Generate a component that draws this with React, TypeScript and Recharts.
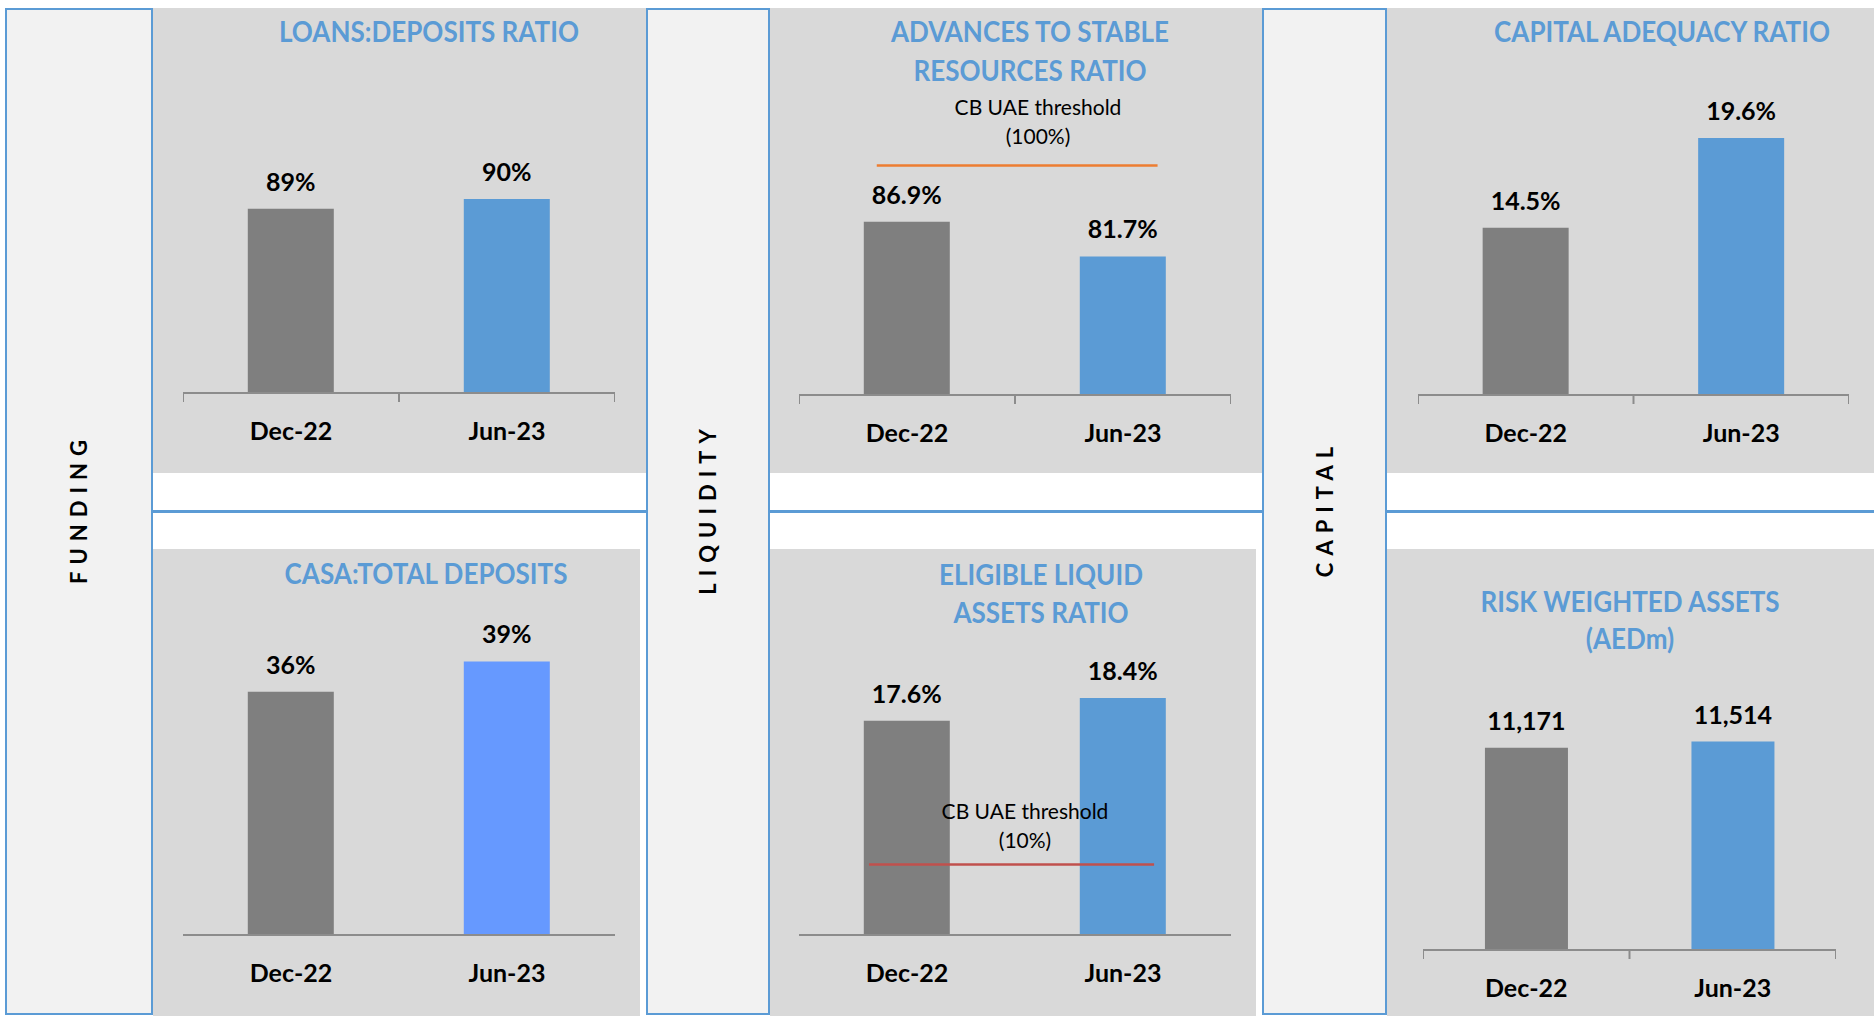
import React from 'react';
import { BarChart, Bar, XAxis, YAxis, Cell, LabelList, ReferenceLine } from 'recharts';

// periods shown on every panel
const periods = ['Dec-22', 'Jun-23'];

// panel values
const loansToDeposits = [89, 90];
const advancesToStable = [86.9, 81.7];
const capitalAdequacy = [14.5, 19.6];
const casaToDeposits = [36, 39];
const eligibleLiquid = [17.6, 18.4];
const riskWeightedAssets = [11171, 11514];

const sections = ['FUNDING', 'LIQUIDITY', 'CAPITAL'];

const thresholdCaption = 'CB UAE threshold';
const advancesThresholdText = '(100%)';
const liquidThresholdText = '(10%)';
// level at which the drawn threshold bar sits on each chart's own scale
const advancesThresholdLevel = 95.3;
const liquidThresholdLevel = 12.5;

const FONT = 'Lato, "Open Sans", "Liberation Sans", sans-serif';
const BLUE = '#5b9bd5';
const GREY_BAR = '#7f7f7f';
const CASA_BLUE = '#6699ff';
const AXIS = '#8c8c8c';
const PANEL = '#d9d9d9';
const SIDEBAR = '#f2f2f2';

const TOP_PAD = 50;
const AXIS_H = 70;

const pct0 = (v: number) => `${v}%`;
const pct1 = (v: number) => `${v.toFixed(1)}%`;
const thousands = (v: number) => v.toLocaleString('en-US');

// from/to are fractions of the plot width covered by the threshold bar
type Threshold = { level: number; from: number; to: number; color: string };

type PanelProps = {
  left: number;
  right: number;
  axisY: number;
  plotHeight: number;
  domain: [number, number];
  values: number[];
  colors: string[];
  format: (v: number) => string;
  edgeTicks: boolean;
  threshold?: Threshold;
};

function PanelChart({ left, right, axisY, plotHeight, domain, values, colors, format, edgeTicks, threshold }: PanelProps) {
  const width = right - left;
  const height = plotHeight + TOP_PAD + AXIS_H;
  const band = width / periods.length;
  const data = periods.map((period, i) => ({ period, value: values[i] }));

  const renderTick = (props: any) => {
    const { x, y, payload, index } = props;
    const base = y - 29;
    return (
      <g>
        {edgeTicks && <line x1={x - band / 2} x2={x - band / 2} y1={base} y2={base + 9} stroke={AXIS} strokeWidth={2} />}
        {edgeTicks && index === periods.length - 1 && (
          <line x1={x + band / 2} x2={x + band / 2} y1={base} y2={base + 9} stroke={AXIS} strokeWidth={2} />
        )}
        <text x={x} y={y} dy="0.71em" textAnchor="middle" fill="#000" fontSize={25} fontWeight={700} fontFamily={FONT}>
          {payload.value}
        </text>
      </g>
    );
  };

  const thresholdShape = (p: any) => {
    if (!threshold) return <g />;
    const span = p.x2 - p.x1;
    return (
      <line
        x1={p.x1 + span * threshold.from}
        x2={p.x1 + span * threshold.to}
        y1={p.y1}
        y2={p.y2}
        stroke={threshold.color}
        strokeWidth={2.5}
      />
    );
  };

  return (
    <div style={{ position: 'absolute', left, top: axisY - plotHeight - TOP_PAD }}>
      <BarChart
        width={width}
        height={height}
        data={data}
        margin={{ top: TOP_PAD, right: 0, bottom: 0, left: 0 }}
        barCategoryGap="30%"
      >
        <XAxis
          dataKey="period"
          height={AXIS_H}
          interval={0}
          axisLine={{ stroke: AXIS, strokeWidth: 2 }}
          tickLine={false}
          tickSize={9}
          tickMargin={20}
          tick={renderTick}
        />
        <YAxis hide domain={domain} allowDataOverflow />
        <Bar dataKey="value" isAnimationActive={false}>
          {data.map((d, i) => (
            <Cell key={d.period} fill={colors[i]} />
          ))}
          <LabelList
            dataKey="value"
            position="top"
            offset={18}
            formatter={(v: any) => format(Number(v))}
            fill="#000"
            fontSize={25}
            fontWeight={700}
            fontFamily={FONT}
          />
        </Bar>
        {threshold && (
          <ReferenceLine y={threshold.level} stroke={threshold.color} strokeWidth={2.5} shape={thresholdShape} />
        )}
      </BarChart>
    </div>
  );
}

function Title({ lines, x, y, gap = 39 }: { lines: string[]; x: number; y: number; gap?: number }) {
  return (
    <>
      {lines.map((line, i) => (
        <div
          key={line}
          style={{
            position: 'absolute',
            left: x,
            top: y + i * gap,
            transform: 'translate(-50%, -50%) scaleX(0.93)',
            color: BLUE,
            fontFamily: FONT,
            fontWeight: 700,
            fontSize: 28,
            lineHeight: 1,
            whiteSpace: 'nowrap',
          }}
        >
          {line}
        </div>
      ))}
    </>
  );
}

function Note({ lines, x, y }: { lines: string[]; x: number; y: number }) {
  return (
    <>
      {lines.map((line, i) => (
        <div
          key={line}
          style={{
            position: 'absolute',
            left: x,
            top: y + i * 29,
            transform: 'translate(-50%, -50%)',
            color: '#000',
            fontFamily: FONT,
            fontSize: 21,
            lineHeight: 1,
            whiteSpace: 'nowrap',
          }}
        >
          {line}
        </div>
      ))}
    </>
  );
}

function Sidebar({ label, left, right }: { label: string; left: number; right: number }) {
  return (
    <div
      style={{
        position: 'absolute',
        left,
        top: 8,
        width: right - left,
        height: 1007,
        boxSizing: 'border-box',
        border: `2px solid ${BLUE}`,
        background: SIDEBAR,
      }}
    >
      <div
        style={{
          position: 'absolute',
          left: '50%',
          top: '50%',
          transform: 'translate(-50%, -50%) rotate(-90deg)',
          fontFamily: FONT,
          fontWeight: 700,
          fontSize: 22,
          letterSpacing: 7,
          paddingLeft: 7,
          lineHeight: 1,
          whiteSpace: 'nowrap',
          color: '#000',
        }}
      >
        {label}
      </div>
    </div>
  );
}

const box = (left: number, top: number, right: number, bottom: number, color: string) => (
  <div style={{ position: 'absolute', left, top, width: right - left, height: bottom - top, background: color }} />
);

export default function App() {
  return (
    <div
      style={{
        position: 'absolute',
        left: 0,
        top: 0,
        width: 1874,
        height: 1016,
        overflow: 'hidden',
        background: '#fff',
        fontFamily: FONT,
      }}
    >
      {/* grey panel backgrounds */}
      {box(153, 8, 646, 473, PANEL)}
      {box(770, 8, 1262, 473, PANEL)}
      {box(1387, 8, 1874, 473, PANEL)}
      {box(153, 549, 640, 1016, PANEL)}
      {box(770, 549, 1256, 1016, PANEL)}
      {box(1387, 549, 1874, 1016, PANEL)}

      {/* blue row dividers */}
      {box(153, 510, 646, 513, BLUE)}
      {box(770, 510, 1262, 513, BLUE)}
      {box(1387, 510, 1874, 513, BLUE)}

      <Sidebar label={sections[0]} left={5} right={153} />
      <Sidebar label={sections[1]} left={646} right={770} />
      <Sidebar label={sections[2]} left={1262} right={1387} />

      <PanelChart
        left={183} right={615} axisY={393} plotHeight={291} domain={[70, 100]}
        values={loansToDeposits} colors={[GREY_BAR, BLUE]} format={pct0} edgeTicks
      />
      <PanelChart
        left={799} right={1231} axisY={395} plotHeight={261} domain={[61, 100]}
        values={advancesToStable} colors={[GREY_BAR, BLUE]} format={pct1} edgeTicks
        threshold={{ level: advancesThresholdLevel, from: 0.18, to: 0.83, color: '#ed7d31' }}
      />
      <PanelChart
        left={1418} right={1849} axisY={395} plotHeight={352} domain={[5, 25]}
        values={capitalAdequacy} colors={[GREY_BAR, BLUE]} format={pct1} edgeTicks
      />
      <PanelChart
        left={183} right={615} axisY={935} plotHeight={385} domain={[12, 50]}
        values={casaToDeposits} colors={[GREY_BAR, CASA_BLUE]} format={pct0} edgeTicks={false}
      />
      <PanelChart
        left={799} right={1231} axisY={935} plotHeight={423} domain={[10, 25]}
        values={eligibleLiquid} colors={[GREY_BAR, BLUE]} format={pct1} edgeTicks={false}
        threshold={{ level: liquidThresholdLevel, from: 0.162, to: 0.822, color: '#c0504d' }}
      />
      <PanelChart
        left={1423} right={1836} axisY={950} plotHeight={362} domain={[0, 20000]}
        values={riskWeightedAssets} colors={[GREY_BAR, BLUE]} format={thousands} edgeTicks
      />

      <Title lines={['LOANS:DEPOSITS RATIO']} x={429} y={31} />
      <Title lines={['ADVANCES TO STABLE', 'RESOURCES RATIO']} x={1030} y={31} />
      <Title lines={['CAPITAL ADEQUACY RATIO']} x={1662} y={31} />
      <Title lines={['CASA:TOTAL DEPOSITS']} x={426} y={573} />
      <Title lines={['ELIGIBLE LIQUID', 'ASSETS RATIO']} x={1041} y={574} gap={38} />
      <Title lines={['RISK WEIGHTED ASSETS', '(AEDm)']} x={1630} y={601} gap={37} />

      <Note lines={[thresholdCaption, advancesThresholdText]} x={1038} y={106} />
      <Note lines={[thresholdCaption, liquidThresholdText]} x={1025} y={810} />
    </div>
  );
}
